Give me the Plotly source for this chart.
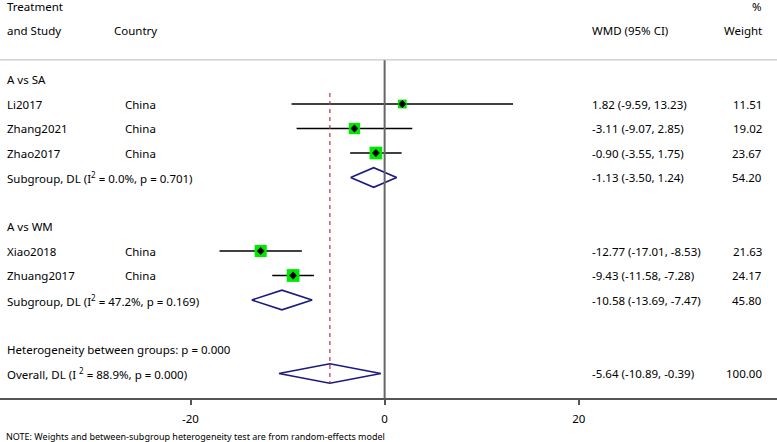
import plotly.graph_objects as go

# ---- data ----
row_labels = ["A vs SA", "Li2017", "Zhang2021", "Zhao2017",
              "Subgroup, DL (I<sup>2</sup> = 0.0%, p = 0.701)",
              "A vs WM", "Xiao2018", "Zhuang2017",
              "Subgroup, DL (I<sup>2</sup> = 47.2%, p = 0.169)",
              "Heterogeneity between groups: p = 0.000",
              "Overall, DL (I <sup>2</sup> = 88.9%, p = 0.000)"]
row_pos = [3, 4, 5, 6, 7, 9, 10, 11, 12, 14, 15]

studies = ["Li2017", "Zhang2021", "Zhao2017", "Xiao2018", "Zhuang2017"]
study_rows = [4, 5, 6, 10, 11]
country = ["China", "China", "China", "China", "China"]
est = [1.82, -3.11, -0.90, -12.77, -9.43]
lo = [-9.59, -9.07, -3.55, -17.01, -11.58]
hi = [13.23, 2.85, 1.75, -8.53, -7.28]
weight = [11.51, 19.02, 23.67, 21.63, 24.17]

pooled_rows = [7, 12, 15]
pooled_est = [-1.13, -10.58, -5.64]
pooled_lo = [-3.50, -13.69, -10.89]
pooled_hi = [1.24, -7.47, -0.39]
pooled_weight = [54.20, 45.80, 100.00]

x_ticks = [-20, 0, 20]

W, H = 777, 442
PLOT_H = 398
FONT = "Noto Sans"
fig = go.Figure()

# CI lines
xs, ys = [], []
for r, a, b in zip(study_rows, lo, hi):
    xs += [a, b, None]
    ys += [r, r, None]
fig.add_trace(go.Scatter(x=xs, y=ys, mode="lines",
                         line=dict(color="black", width=1.6), hoverinfo="skip"))

# weight squares
fig.add_trace(go.Scatter(x=est, y=study_rows, mode="markers", opacity=1,
                         marker=dict(symbol="square", color="#00e800", opacity=1,
                                     size=[2.6 * w ** 0.5 for w in weight],
                                     line=dict(width=0))))
# point estimates
fig.add_trace(go.Scatter(x=est, y=study_rows, mode="markers",
                         marker=dict(symbol="diamond", color="black", size=6)))

# pooled diamonds
for r, e, a, b in zip(pooled_rows, pooled_est, pooled_lo, pooled_hi):
    fig.add_trace(go.Scatter(x=[a, e, b, e, a], y=[r, r - 0.4, r, r + 0.4, r],
                             mode="lines", line=dict(color="#1a1a80", width=1.6),
                             hoverinfo="skip"))

# overall effect dashed line
fig.add_shape(type="line", x0=pooled_est[-1], x1=pooled_est[-1], y0=3.55, y1=15.4,
              line=dict(color="#b83246", width=1.2, dash="4px,4px"))
# zero line
fig.add_shape(type="line", x0=0, x1=0, y0=2.2, y1=16.0,
              line=dict(color="#666666", width=2))
# header rule
fig.add_shape(type="line", xref="paper", x0=0, x1=1, y0=2.2, y1=2.2,
              line=dict(color="#bbbbbb", width=1))

def px(p):
    return p / W

def txt(x, y, s, anchor="left", size=11.5):
    fig.add_annotation(x=px(x), y=y, xref="paper", yref="y", text=s,
                       showarrow=False, xanchor=anchor, yanchor="middle",
                       font=dict(family=FONT, size=size, color="#000000"))

# headers
txt(5, 0, "Treatment")
txt(5, 1, "and Study")
txt(112, 1, "Country")
txt(764, 0, "%", "right")
txt(590, 1, "WMD (95% CI)")
txt(764, 1, "Weight", "right")

for s, r in zip(row_labels, row_pos):
    txt(5, r, s)
for c, r in zip(country, study_rows):
    txt(123, r, c)
for e, a, b, w, r in zip(est, lo, hi, weight, study_rows):
    txt(590, r, f"{e:.2f} ({a:.2f}, {b:.2f})")
    txt(764, r, f"{w:.2f}", "right")
for e, a, b, w, r in zip(pooled_est, pooled_lo, pooled_hi, pooled_weight, pooled_rows):
    txt(590, r, f"{e:.2f} ({a:.2f}, {b:.2f})")
    txt(764, r, f"{w:.2f}", "right")

fig.add_annotation(x=px(4), y=(PLOT_H - 436) / PLOT_H, xref="paper", yref="paper",
                   text="NOTE: Weights and between-subgroup heterogeneity test are from random-effects model",
                   showarrow=False, xanchor="left", yanchor="middle",
                   font=dict(family=FONT, size=9, color="#000000"))

fig.update_layout(
    width=W, height=H, margin=dict(l=0, r=0, t=0, b=H - PLOT_H, pad=0, autoexpand=False),
    paper_bgcolor="white", plot_bgcolor="white", showlegend=False,
    xaxis=dict(range=[-39.63, 40.43], tickvals=x_ticks, ticktext=[str(t) for t in x_ticks],
               showgrid=False, zeroline=False, showline=True, linecolor="#555555",
               linewidth=2, ticks="outside", ticklen=5, tickcolor="#555555", tickwidth=1.5,
               ticklabelstandoff=4,
               tickfont=dict(family=FONT, size=11.5, color="#000000"), automargin=False),
    yaxis=dict(range=[16, -0.245], visible=False, showgrid=False, zeroline=False,
               automargin=False),
)

fig.write_html("out.html", config={"displayModeBar": False},
               post_script="document.body.style.margin='0px';document.body.style.overflow='hidden';")
